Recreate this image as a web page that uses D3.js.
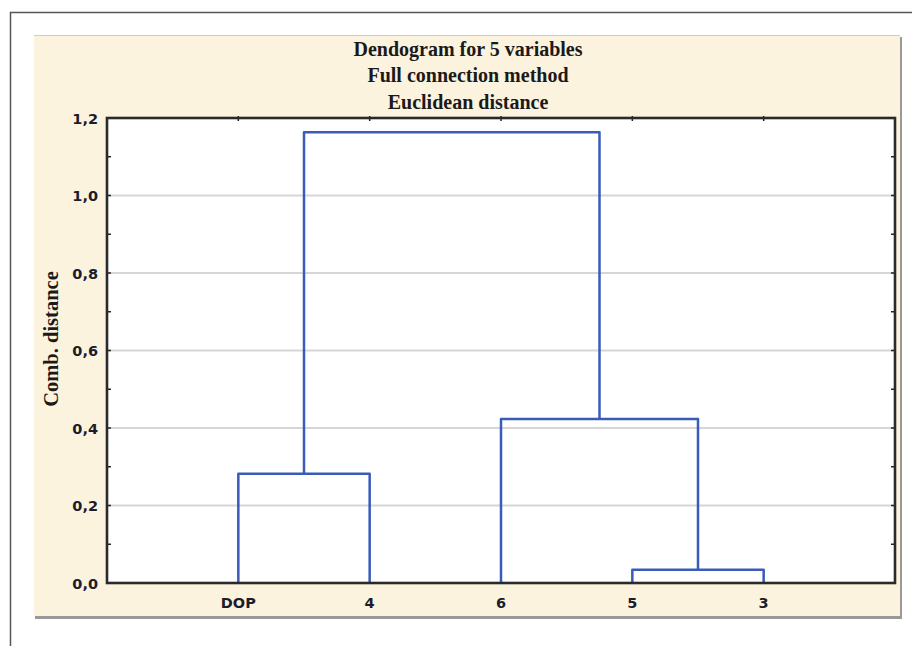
<!DOCTYPE html>
<html>
<head>
<meta charset="utf-8">
<script src="https://cdn.jsdelivr.net/npm/d3@7"></script>
<style>
  body { margin: 0; background: #fff; }
  svg { display: block; }
</style>
</head>
<body>
<div id="chart"></div>
<script>
// leaf order along the x axis
var leaves = ["DOP", "4", "6", "5", "3"];
// merges: [left node, right node, height]; nodes >= leaves.length are earlier merges
var merges = [
    [3, 4, 0.034],
    [0, 1, 0.282],
    [2, 5, 0.423],
    [6, 7, 1.163]
];
var yTicks = [0, 0.2, 0.4, 0.6, 0.8, 1.0, 1.2];
var titleLines = ["Dendogram for 5 variables", "Full connection method", "Euclidean distance"];
var yLabel = "Comb. distance";

var W = 912, H = 646;
var plot = {left: 107, right: 895, top: 118, bottom: 583};

var root = d3.select("#chart").append("svg").attr("width", W).attr("height", H);

// outer frame (cut off at right and bottom)
root.append("path")
    .attr("d", "M10.5," + H + "V12.5H" + W)
    .attr("fill", "none").attr("stroke", "#555").attr("stroke-width", 1.5);

// beige panel with a little shadow
root.append("rect").attr("x", 35).attr("y", 37).attr("width", 867).attr("height", 582).attr("fill", "#999");
root.append("rect").attr("x", 34).attr("y", 35).attr("width", 866).attr("height", 581).attr("fill", "#fcf3df");
root.append("line").attr("x1", 34).attr("x2", 900).attr("y1", 35.5).attr("y2", 35.5).attr("stroke", "#d8cbb0");

var x = d3.scaleLinear().domain([0, leaves.length + 1]).range([plot.left, plot.right]);
var y = d3.scaleLinear().domain([0, 1.2]).range([plot.bottom, plot.top]);

var svg = root.append("g");

svg.append("rect")
    .attr("x", plot.left).attr("y", plot.top)
    .attr("width", plot.right - plot.left).attr("height", plot.bottom - plot.top)
    .attr("fill", "#fff");

// grid
svg.selectAll(".grid").data(yTicks.slice(1, -1)).enter().append("line")
    .attr("x1", plot.left).attr("x2", plot.right)
    .attr("y1", function(d){ return y(d); }).attr("y2", function(d){ return y(d); })
    .attr("stroke", "#d6d6d6").attr("stroke-width", 2);

// minor ticks every 0.1 on left and right, inward
var minor = d3.range(0, 13).map(function(i){ return i / 10; });
minor.forEach(function(v){
    svg.append("line").attr("x1", plot.left).attr("x2", plot.left + 4)
        .attr("y1", y(v)).attr("y2", y(v)).attr("stroke", "#222").attr("stroke-width", 1.5);
    svg.append("line").attr("x1", plot.right).attr("x2", plot.right - 4)
        .attr("y1", y(v)).attr("y2", y(v)).attr("stroke", "#222").attr("stroke-width", 1.5);
});
// top ticks at leaf positions
leaves.forEach(function(d, i){
    svg.append("line").attr("x1", x(i + 1)).attr("x2", x(i + 1))
        .attr("y1", plot.top - 2).attr("y2", plot.top + 3).attr("stroke", "#222").attr("stroke-width", 1.5);
});

// dendrogram links
var nodes = leaves.map(function(d, i){ return {x: i + 1, h: 0}; });
var linkColor = "#3a5bb8";
merges.forEach(function(m){
    var a = nodes[m[0]], b = nodes[m[1]], h = m[2];
    svg.append("path")
        .attr("d", "M" + x(a.x) + "," + y(a.h) + "V" + y(h) + "H" + x(b.x) + "V" + y(b.h))
        .attr("fill", "none").attr("stroke", linkColor).attr("stroke-width", 2.5)
        .attr("stroke-linejoin", "round");
    nodes.push({x: (a.x + b.x) / 2, h: h});
});

// plot border
svg.append("rect")
    .attr("x", plot.left).attr("y", plot.top)
    .attr("width", plot.right - plot.left).attr("height", plot.bottom - plot.top)
    .attr("fill", "none").attr("stroke", "#2a2a2a").attr("stroke-width", 2.6);

// y axis labels
var fmt = function(v){ return d3.format(".1f")(v).replace(".", ","); };
svg.selectAll(".ylab").data(yTicks).enter().append("text")
    .attr("x", plot.left - 9).attr("y", function(d){ return y(d) + 5.5; })
    .attr("text-anchor", "end")
    .attr("font-family", "DejaVu Sans, sans-serif").attr("font-weight", "bold")
    .attr("font-size", 14.5).attr("fill", "#1c1c2a")
    .text(fmt);

// x axis labels
svg.selectAll(".xlab").data(leaves).enter().append("text")
    .attr("x", function(d, i){ return x(i + 1); }).attr("y", plot.bottom + 25)
    .attr("text-anchor", "middle")
    .attr("font-family", "DejaVu Sans, sans-serif").attr("font-weight", "bold")
    .attr("font-size", 14.5).attr("fill", "#1c1c2a")
    .text(function(d){ return d; });

// title
svg.selectAll(".title").data(titleLines).enter().append("text")
    .attr("x", 468).attr("y", function(d, i){ return 55.5 + i * 26.5; })
    .attr("text-anchor", "middle")
    .attr("font-family", "Liberation Serif, Times New Roman, serif").attr("font-weight", "bold")
    .attr("font-size", 20).attr("fill", "#1a1a1a")
    .text(function(d){ return d; });

// y axis title
svg.append("text")
    .attr("transform", "translate(58,339) rotate(-90)")
    .attr("text-anchor", "middle")
    .attr("font-family", "Liberation Serif, Times New Roman, serif").attr("font-weight", "bold")
    .attr("font-size", 20.5).attr("fill", "#1a1a1a")
    .text(yLabel);
</script>
</body>
</html>
